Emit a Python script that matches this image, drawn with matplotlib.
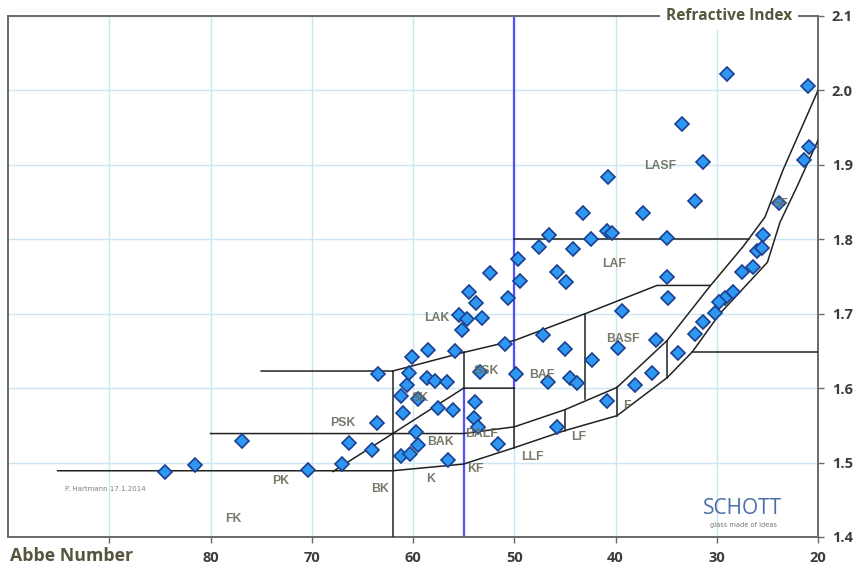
import matplotlib.pyplot as plt

# glass types: Abbe number vd and refractive index nd
abbe = [84.5, 81.5, 76.9, 70.4, 67.0, 66.3, 64.05, 63.56, 63.46,
        61.19, 60.30, 59.51, 59.70, 60.99, 61.19, 60.59, 60.40, 60.10, 59.51,
        58.52, 58.62, 57.83, 56.64, 57.53, 56.05, 56.54, 55.85, 55.16, 55.46,
        54.67, 53.19, 54.47, 53.78, 50.62, 52.40, 49.63, 49.43, 53.38, 53.88,
        53.98, 53.58, 51.60, 50.91, 49.83, 47.16, 44.99, 46.67, 44.49, 43.80,
        42.32, 45.78, 46.57, 47.56, 44.20, 45.78, 44.89, 40.74, 43.21, 37.28,
        40.84, 40.35, 42.42, 34.91, 34.91, 34.81, 39.36, 36.0, 39.75, 33.83,
        36.40, 38.07, 40.84, 28.99, 20.99, 33.43, 31.36, 20.89, 21.38, 32.15,
        23.85, 25.43, 26.02, 25.53, 26.42, 27.51, 28.40, 29.19, 29.78, 30.17,
        31.36, 32.15]
nd = [1.487, 1.497, 1.529, 1.490, 1.498, 1.526, 1.517, 1.553, 1.619,
      1.509, 1.511, 1.523, 1.541, 1.566, 1.589, 1.604, 1.620, 1.642, 1.585,
      1.651, 1.613, 1.609, 1.608, 1.573, 1.570, 1.503, 1.650, 1.678, 1.698,
      1.693, 1.694, 1.729, 1.714, 1.721, 1.755, 1.773, 1.744, 1.622, 1.581,
      1.560, 1.548, 1.525, 1.659, 1.619, 1.671, 1.652, 1.608, 1.613, 1.607,
      1.638, 1.548, 1.806, 1.790, 1.787, 1.756, 1.742, 1.884, 1.835, 1.835,
      1.811, 1.808, 1.800, 1.802, 1.749, 1.721, 1.704, 1.665, 1.654, 1.647,
      1.620, 1.604, 1.583, 2.022, 2.006, 1.955, 1.904, 1.924, 1.906, 1.851,
      1.849, 1.806, 1.784, 1.788, 1.763, 1.756, 1.729, 1.721, 1.716, 1.701,
      1.689, 1.673]

# glass type boundaries (vd, nd)
outer_curve = [(95.1, 1.489), (62.0, 1.489), (55.0, 1.498), (50.0, 1.520), (45.0, 1.543),
               (39.85, 1.563), (34.9, 1.614), (32.4, 1.649), (29.7, 1.700), (25.0, 1.769),
               (23.75, 1.823), (22.1, 1.870), (20.0, 1.933)]
inner_curve = [(80.0, 1.539), (62.0, 1.539), (55.0, 1.539), (50.0, 1.548), (45.0, 1.571),
               (39.85, 1.601), (34.9, 1.664), (30.67, 1.737), (27.41, 1.790), (25.23, 1.830),
               (23.46, 1.893), (20.0, 2.0)]
sk_lower = [(67.9, 1.488), (62.0, 1.539), (55.0, 1.600), (50.0, 1.600)]
lak_lower = [(75.0, 1.623), (62.0, 1.623), (55.0, 1.648), (50.0, 1.664), (43.0, 1.700),
             (35.9, 1.738), (30.67, 1.738)]
straight_lines = [
    [(62.0, 1.623), (62.0, 1.4)],
    [(55.0, 1.648), (55.0, 1.600)],
    [(50.0, 1.600), (50.0, 1.520)],
    [(45.0, 1.571), (45.0, 1.543)],
    [(39.85, 1.601), (39.85, 1.563)],
    [(34.9, 1.664), (34.9, 1.614)],
    [(43.0, 1.700), (43.0, 1.586)],
    [(50.0, 1.800), (26.8, 1.800)],
    [(32.4, 1.649), (20.0, 1.649)],
]
blue_lines = [[(50.0, 2.1), (50.0, 1.600)], [(55.0, 1.600), (55.0, 1.4)]]

region_names = ['LASF', 'LAF', 'LAK', 'BASF', 'SSK', 'BAF', 'SK', 'PSK', 'BALF', 'BAK',
                'F', 'LF', 'LLF', 'KF', 'K', 'PK', 'BK', 'FK', 'SF']
region_vd = [35.6, 40.1, 57.7, 39.3, 52.8, 47.3, 59.3, 66.9, 53.2, 57.3,
             38.9, 43.6, 48.2, 53.8, 58.3, 73.1, 63.3, 77.7, 23.7]
region_nd = [1.898, 1.767, 1.694, 1.666, 1.623, 1.618, 1.587, 1.553, 1.539, 1.527,
             1.576, 1.534, 1.507, 1.492, 1.478, 1.475, 1.465, 1.424, 1.847]

x_ticks = [90, 80, 70, 60, 50, 40, 30, 20]
x_tick_labels = ['', '80', '70', '60', '50', '40', '30', '20']
y_ticks = [1.4, 1.5, 1.6, 1.7, 1.8, 1.9, 2.0, 2.1]

title_color = '#56563c'
label_color = '#6a6a5c'
axis_color = '#6a6a6a'

fig = plt.figure(figsize=(8.57, 5.69), dpi=100)
ax = fig.add_axes([8 / 857, 32 / 569, 810 / 857, 521 / 569])
ax.set_xlim(100, 20)
ax.set_ylim(1.4, 2.1)

ax.set_xticks(x_ticks)
ax.set_xticklabels(x_tick_labels)
ax.set_yticks(y_ticks)
ax.set_yticklabels([f'{v:.1f}' for v in y_ticks])
ax.yaxis.tick_right()
ax.tick_params(axis='both', direction='out', length=4, width=1, color=axis_color,
               labelcolor='#3c3c3c', labelsize=10.5)
ax.tick_params(axis='x', pad=6)
ax.tick_params(axis='y', pad=6)
for lbl in ax.get_xticklabels() + ax.get_yticklabels():
    lbl.set_fontweight('bold')
    lbl.set_family('Open Sans')

ax.grid(True, color='#cae6f2', linewidth=1.0)
ax.set_axisbelow(True)
for side in ['left', 'right', 'top', 'bottom']:
    ax.spines[side].set_color(axis_color)
    ax.spines[side].set_linewidth(1.4)

# blue crown / flint dividing lines
for seg in blue_lines:
    ax.plot([p[0] for p in seg], [p[1] for p in seg], color='#5050ff', lw=1.6, zorder=2)

# boundaries of the glass families
for line in [outer_curve, inner_curve, sk_lower, lak_lower] + straight_lines:
    ax.plot([p[0] for p in line], [p[1] for p in line], color='#222222', lw=1.1, zorder=3)

ax.plot(abbe, nd, 'D', ls='none', ms=7.2, mfc='#2d97f2', mec='#1b3f8f', mew=1.2, zorder=4)

for name, x, y in zip(region_names, region_vd, region_nd):
    ax.text(x, y, name, ha='center', va='center', fontsize=8.8, fontweight='bold',
            color=label_color, family='Liberation Sans', alpha=0.9, zorder=5)

ax.text(90.4, 1.464, 'P. Hartmann 17.1.2014', ha='center', va='center', fontsize=5,
        color='#808080', zorder=5)

fig.text(792 / 857, 1 - 16 / 569, 'Refractive Index', ha='right', va='center',
         fontsize=11.2, fontweight='bold', color=title_color, family='Open Sans',
         bbox=dict(facecolor='white', edgecolor='none', pad=4))
fig.text(72 / 857, 1 - 556 / 569, 'Abbe Number', ha='center', va='center',
         fontsize=12.8, fontweight='bold', color=title_color, family='Open Sans')

fig.text(742 / 857, 1 - 509 / 569, 'SCHOTT', ha='center', va='center', fontsize=15,
         color='#4a6ea8', family='Open Sans')
fig.text(743 / 857, 1 - 525 / 569, 'glass made of ideas', ha='center', va='center',
         fontsize=4.8, color='#777777')

fig.savefig('out.png', dpi=100)
